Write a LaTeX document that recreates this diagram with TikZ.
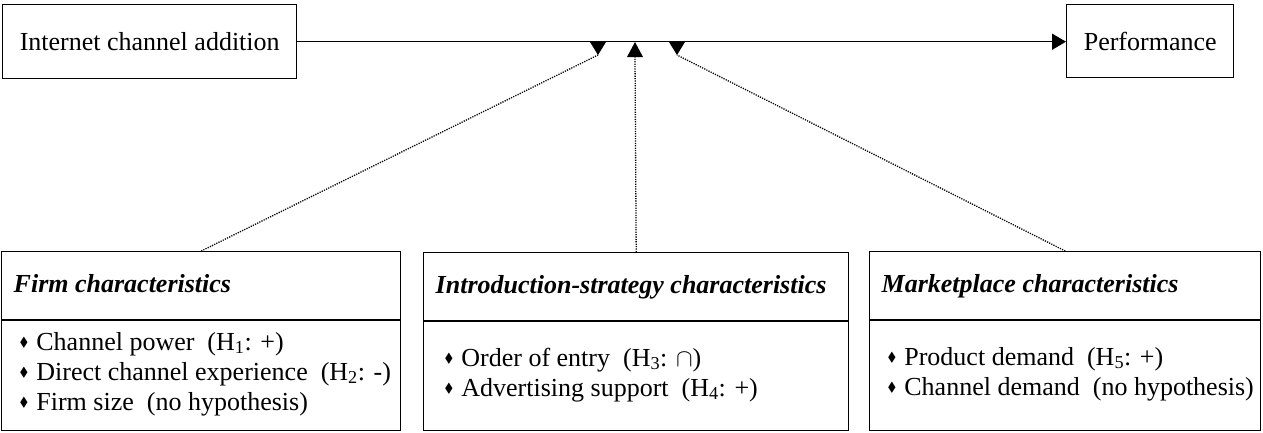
\documentclass[tikz,border=0pt]{standalone}
\usepackage{amssymb}
\usepackage{fontspec}
\setmainfont{Liberation Serif}
\usetikzlibrary{arrows.meta,positioning}

\newcommand{\itemmark}{\raisebox{0.3ex}{\scalebox{0.5}{$\blacklozenge$}}\hspace{8pt}}
\tikzset{
  box/.style={draw, rectangle, line width=1.4pt, inner sep=0pt},
  boxtext/.style={font=\fontsize{26}{30}\selectfont},
  itemtext/.style={font=\fontsize{26}{30}\selectfont, anchor=base west, inner sep=0pt},
  influence/.style={line width=1.3pt, dash pattern=on 1.2pt off 1.2pt},
  headtip/.style={fill=black}
}

\begin{document}
\begin{tikzpicture}[x=1pt, y=-1pt, line width=1.4pt]
   \useasboundingbox (0,0) rectangle (1263,432);
   % top row
   \node [box, boxtext, anchor=north west, minimum width=294, minimum height=74] (ica) at (2,4) {Internet channel addition};
   \node [box, boxtext, anchor=north west, minimum width=167, minimum height=73] (perf) at (1066,4) {Performance};
   \draw [-{Triangle[width=16pt,length=14pt]}] (ica.east) -- (ica.east -| perf.west);

   % bottom row
   \node [box, anchor=north west, minimum width=399, minimum height=179] (firm) at (1,251) {};
   \node [box, anchor=north west, minimum width=425, minimum height=178] (intro) at (423,252) {};
   \node [box, anchor=north west, minimum width=391, minimum height=179] (market) at (869,251) {};
   \foreach \b/\t in {firm/Firm characteristics, intro/Introduction-strategy characteristics, market/Marketplace characteristics}
      {\draw ([yshift=-69pt]\b.north west) -- ([yshift=-69pt]\b.north east);
       \node [itemtext] (\b-title) at ([xshift=12pt,yshift=-41pt]\b.north west) {\textbf{\textit{\t}}};}

   \foreach \txt [count=\i] in {Channel power~ (H\textsubscript{1}: +), Direct channel experience~ (H\textsubscript{2}: -), Firm size~ (no hypothesis)}
      \node [itemtext] (firm-\i) at ([xshift=18pt,yshift={-99pt-(\i-1)*30pt}]firm.north west) {\itemmark\txt};
   \foreach \txt [count=\i] in {Order of entry~ (H\textsubscript{3}: $\cap$), Advertising support~ (H\textsubscript{4}: +)}
      \node [itemtext] (intro-\i) at ([xshift=21pt,yshift={-114pt-(\i-1)*30pt}]intro.north west) {\itemmark\txt};
   \foreach \txt [count=\i] in {Product demand~ (H\textsubscript{5}: +), Channel demand~ (no hypothesis)}
      \node [itemtext] (market-\i) at ([xshift=18pt,yshift={-114pt-(\i-1)*30pt}]market.north west) {\itemmark\txt};

   % moderating effects
   \coordinate (tipL) at (598,55);
   \coordinate (tipM) at (635,42);
   \coordinate (tipR) at (677,55);
   \fill [headtip] ([xshift=-8pt,yshift=13pt]tipL) -- ([xshift=8pt,yshift=13pt]tipL) -- (tipL) -- cycle;
   \fill [headtip] ([xshift=-8pt,yshift=-15pt]tipM) -- ([xshift=8pt,yshift=-15pt]tipM) -- (tipM) -- cycle;
   \fill [headtip] ([xshift=-8pt,yshift=13pt]tipR) -- ([xshift=8pt,yshift=13pt]tipR) -- (tipR) -- cycle;
   \draw [influence] (firm.north) -- (tipL);
   \draw [influence] (intro.north) -- ([yshift=-15pt]tipM);
   \draw [influence] (market.north) -- (tipR);
\end{tikzpicture}
\end{document}
